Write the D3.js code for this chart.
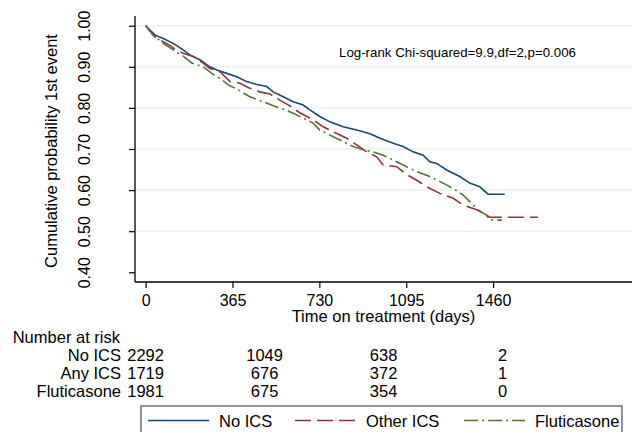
<!DOCTYPE html>
<html>
<head>
<meta charset="utf-8">
<script src="https://cdn.jsdelivr.net/npm/d3@7"></script>
<style>
  body { margin: 0; background: #fff; }
  svg { font-family: "Liberation Sans", Arial, sans-serif; }
</style>
</head>
<body>
<div id="chart"></div>
<script>
const noIcsDays = [0, 40, 74, 116, 158, 186, 228, 270, 299, 341, 383, 425, 467, 509, 536, 578, 620, 662, 690, 732, 774, 830, 887, 943, 985, 1040, 1082, 1124, 1166, 1194, 1223, 1265, 1320, 1362, 1404, 1439, 1509];
const noIcsSurv = [1, .977, .969, .957, .941, .929, .917, .900, .892, .884, .876, .864, .857, .852, .839, .827, .815, .807, .795, .779, .766, .754, .746, .737, .726, .714, .706, .693, .685, .669, .665, .649, .633, .617, .608, .590, .590];

const otherIcsDays = [0, 39, 60, 102, 131, 158, 200, 242, 270, 312, 355, 396, 438, 480, 522, 564, 606, 648, 704, 746, 788, 845, 887, 929, 971, 998, 1055, 1097, 1139, 1181, 1236, 1292, 1334, 1391, 1432, 1446, 1649];
const otherIcsSurv = [1, .973, .965, .952, .940, .933, .925, .909, .896, .888, .864, .860, .848, .839, .834, .819, .805, .788, .771, .754, .742, .726, .710, .693, .681, .661, .657, .638, .624, .608, .592, .580, .564, .552, .539, .534, .534];

const flutDays = [0, 32, 74, 116, 158, 194, 242, 278, 312, 347, 389, 438, 494, 536, 578, 620, 662, 704, 732, 788, 830, 872, 914, 956, 998, 1054, 1097, 1139, 1194, 1250, 1292, 1334, 1362, 1397, 1432, 1447, 1496];
const flutSurv = [1, .977, .957, .941, .926, .909, .900, .884, .872, .856, .844, .827, .815, .805, .797, .787, .775, .763, .746, .730, .718, .706, .698, .693, .685, .669, .657, .645, .633, .617, .604, .588, .572, .552, .539, .527, .527];

const xTicks = [0, 365, 730, 1095, 1460];
const yTicks = [0.4, 0.5, 0.6, 0.7, 0.8, 0.9, 1.0];
const riskTimes = [0, 500, 1000, 1500];
const riskGroups = ["No ICS", "Any ICS", "Fluticasone"];
const riskCounts = [
  [2292, 1049, 638, 2],
  [1719, 676, 372, 1],
  [1981, 675, 354, 0]
];
const seriesNames = ["No ICS", "Other ICS", "Fluticasone"];
const seriesColors = ["#1a476f", "#90353b", "#55752f"];
const seriesDash = [null, "16,6", "14,4,2,4"];

const W = 633, H = 432;
const svg = d3.select("#chart").append("svg")
  .attr("width", W).attr("height", H);

const x = d3.scaleLinear().domain([0, 1460]).range([145.6, 493.1]);
const y = d3.scaleLinear().domain([0.4, 1.0]).range([272.3, 25.7]);

const axisLeftX = 135, axisBottomY = 282, plotRight = 632, plotTop = 16;

// gridlines
svg.append("g")
  .selectAll("line")
  .data(yTicks.filter(d => d > 0.4))
  .enter().append("line")
  .attr("x1", axisLeftX).attr("x2", plotRight)
  .attr("y1", d => y(d)).attr("y2", d => y(d))
  .attr("stroke", "#eaf2f3").attr("stroke-width", 1.5);

// y axis
const yAxis = svg.append("g")
  .attr("transform", `translate(${axisLeftX},0)`)
  .call(d3.axisLeft(y).tickValues(yTicks).tickSize(6).tickFormat(d3.format(".2f")));
yAxis.select(".domain").remove();
yAxis.selectAll("line").attr("stroke", "#000").attr("stroke-width", 1.2);
yAxis.selectAll("text")
  .attr("x", null).attr("dy", null).attr("y", 0)
  .attr("transform", `translate(${90 - axisLeftX},0) rotate(-90)`)
  .style("text-anchor", "middle")
  .style("font-size", "16px")
  .style("font-family", "inherit")
  .attr("fill", "#000");
svg.append("line")
  .attr("x1", axisLeftX).attr("x2", axisLeftX)
  .attr("y1", plotTop).attr("y2", axisBottomY)
  .attr("stroke", "#000").attr("stroke-width", 1.3);

// x axis
const xAxis = svg.append("g")
  .attr("transform", `translate(0,${axisBottomY})`)
  .call(d3.axisBottom(x).tickValues(xTicks).tickSize(6).tickFormat(d3.format("d")));
xAxis.select(".domain").remove();
xAxis.selectAll("line").attr("stroke", "#000").attr("stroke-width", 1.2);
xAxis.selectAll("text")
  .attr("y", 23.5).attr("dy", null)
  .style("font-size", "16px")
  .style("font-family", "inherit")
  .attr("fill", "#000");
svg.append("line")
  .attr("x1", axisLeftX).attr("x2", plotRight)
  .attr("y1", axisBottomY).attr("y2", axisBottomY)
  .attr("stroke", "#000").attr("stroke-width", 1.3);

// axis titles
svg.append("text")
  .attr("transform", "translate(57,151) rotate(-90)")
  .attr("text-anchor", "middle")
  .style("font-size", "16.5px")
  .text("Cumulative probability 1st event");

svg.append("text")
  .attr("x", (axisLeftX + plotRight) / 2).attr("y", 322)
  .attr("text-anchor", "middle")
  .style("font-size", "16.5px")
  .text("Time on treatment (days)");

svg.append("text")
  .attr("x", 339).attr("y", 57)
  .style("font-size", "13.3px")
  .text("Log-rank Chi-squared=9.9,df=2,p=0.006");

// curves
const series = [
  noIcsDays.map((d, i) => ({ t: d, s: noIcsSurv[i] })),
  otherIcsDays.map((d, i) => ({ t: d, s: otherIcsSurv[i] })),
  flutDays.map((d, i) => ({ t: d, s: flutSurv[i] }))
];

const line = d3.line()
  .x(d => x(d.t))
  .y(d => y(d.s));

series.forEach((data, i) => {
  svg.append("path")
    .datum(data)
    .attr("fill", "none")
    .attr("stroke", seriesColors[i])
    .attr("stroke-width", 1.6)
    .attr("stroke-dasharray", seriesDash[i])
    .attr("d", line);
});

// number at risk table
svg.append("text")
  .attr("x", 12.7).attr("y", 343)
  .style("font-size", "16.5px")
  .text("Number at risk");

riskGroups.forEach((g, r) => {
  const by = 361 + r * 18;
  svg.append("text")
    .attr("x", 121).attr("y", by)
    .attr("text-anchor", "end")
    .style("font-size", "16.5px")
    .text(g);
  svg.selectAll(null)
    .data(riskCounts[r])
    .enter().append("text")
    .attr("x", (d, j) => x(riskTimes[j]))
    .attr("y", by)
    .attr("text-anchor", "middle")
    .style("font-size", "16.5px")
    .text(d => d);
});

// legend
const legend = svg.append("g");
legend.append("rect")
  .attr("x", 141).attr("y", 406)
  .attr("width", 481).attr("height", 40)
  .attr("fill", "#fff")
  .attr("stroke", "#777").attr("stroke-width", 1.6);

const legendLineX = [148, 295, 464];
seriesNames.forEach((n, i) => {
  legend.append("line")
    .attr("x1", legendLineX[i]).attr("x2", legendLineX[i] + 61)
    .attr("y1", 420.5).attr("y2", 420.5)
    .attr("stroke", seriesColors[i])
    .attr("stroke-width", 1.4)
    .attr("stroke-dasharray", seriesDash[i]);
  legend.append("text")
    .attr("x", legendLineX[i] + 71).attr("y", 427)
    .style("font-size", "16.5px")
    .text(n);
});
</script>
</body>
</html>
